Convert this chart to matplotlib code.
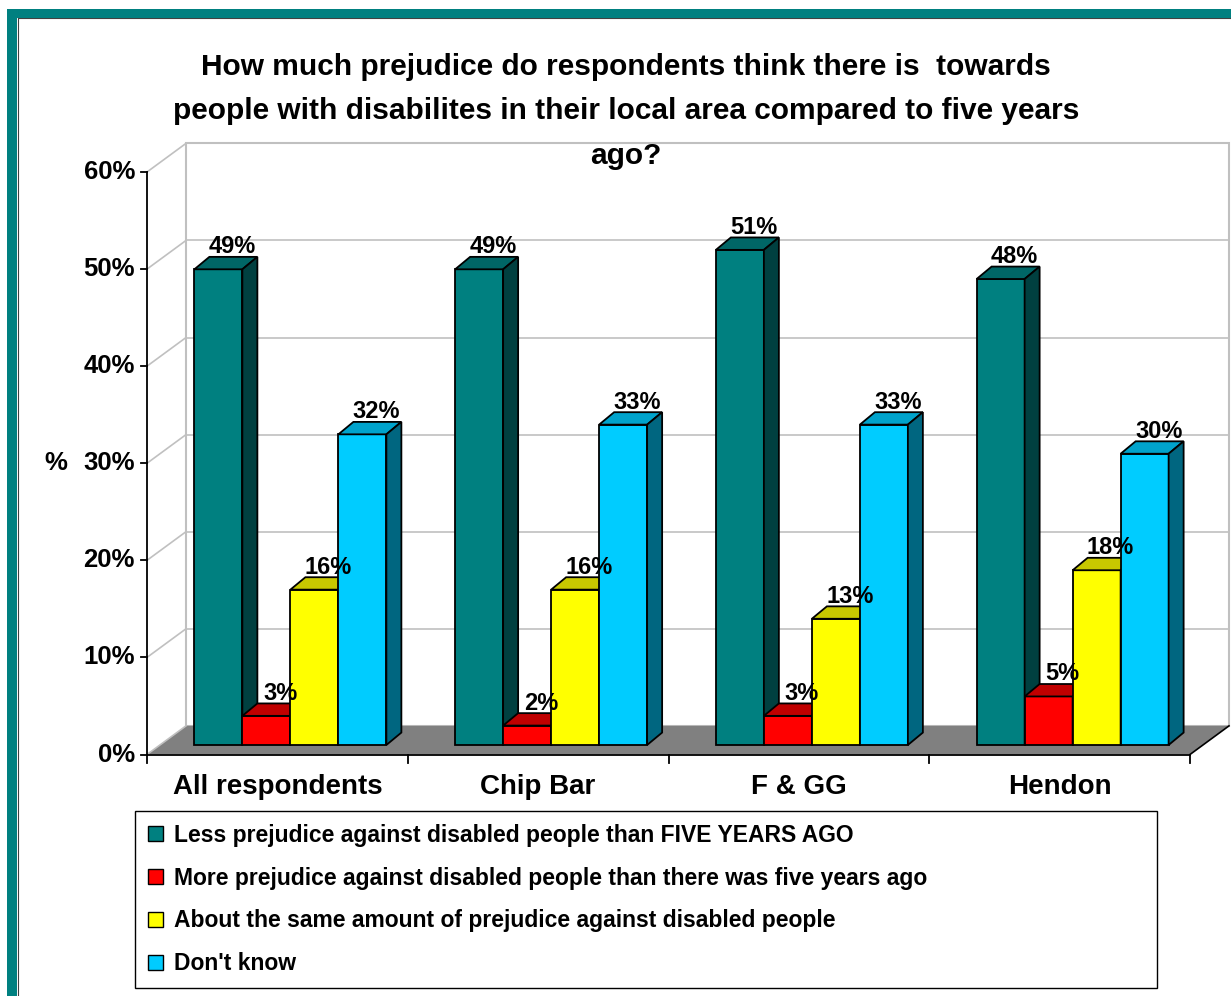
import matplotlib
matplotlib.use("Agg")
import matplotlib.pyplot as plt
from matplotlib.patches import Rectangle, Polygon, Patch
from matplotlib.lines import Line2D

plt.rcParams["font.family"] = ["Liberation Sans", "DejaVu Sans"]
plt.rcParams["font.weight"] = "bold"

categories = ["All respondents", "Chip Bar", "F & GG", "Hendon"]
less_prejudice = [49, 49, 51, 48]
more_prejudice = [3, 2, 3, 5]
same_prejudice = [16, 16, 13, 18]
dont_know = [32, 33, 33, 30]
series_names = [
    "Less prejudice against disabled people than FIVE YEARS AGO",
    "More prejudice against disabled people than there was five years ago",
    "About the same amount of prejudice against disabled people",
    "Don't know",
]
y_ticks = [0, 10, 20, 30, 40, 50, 60]
title = ("How much prejudice do respondents think there is  towards\n"
         "people with disabilites in their local area compared to five years\n"
         "ago?")

series = [less_prejudice, more_prejudice, same_prejudice, dont_know]
front_colors = ["#008080", "#ff0000", "#ffff00", "#00ccff"]
top_colors = ["#006666", "#c00000", "#c8c800", "#00a3cc"]
side_colors = ["#004040", "#800000", "#808000", "#006680"]

W, H = 1231, 996
fig = plt.figure(figsize=(W / 100, H / 100), dpi=100)
fig.patch.set_facecolor("white")

# one axes over the whole figure; data units: 1 per category, 1 per percent
ax = fig.add_axes([0, 0, 1, 1])
px_x = 260.75          # pixels per category
px_y = 9.708           # pixels per percent
x0_px, y0_px = 147, 754.5
ax.set_xlim(-0.5 - x0_px / px_x, -0.5 + (W - x0_px) / px_x)
ax.set_ylim(-(H - y0_px) / px_y, y0_px / px_y)
ax.axis("off")

# 3D depth of the plot box and of the bars
depth_x, depth_y = 39 / px_x, 2.95
bar_shift_x, bar_shift_y = 13 / px_x, 0.98
bar_dx, bar_dy = 15 / px_x, 1.28
bar_w = 48 / px_x
n = len(categories)
left, right = -0.5, n - 0.5
ymax = y_ticks[-1]
grid_c = "#c0c0c0"

# back wall
ax.add_patch(Polygon([(left + depth_x, depth_y), (right + depth_x, depth_y),
                      (right + depth_x, ymax + depth_y), (left + depth_x, ymax + depth_y)],
                     closed=True, facecolor="white", edgecolor=grid_c, lw=1.5, zorder=1))
for t in y_ticks[1:]:
    ax.plot([left + depth_x, right + depth_x], [t + depth_y, t + depth_y], color=grid_c, lw=1.2, zorder=1.1)
    ax.plot([left, left + depth_x], [t, t + depth_y], color=grid_c, lw=1.2, zorder=1.1)

# floor
ax.add_patch(Polygon([(left, 0), (right, 0), (right + depth_x, depth_y), (left + depth_x, depth_y)],
                     closed=True, facecolor="#808080", edgecolor="none", zorder=1.5))
ax.plot([left, left + depth_x], [0, depth_y], color=grid_c, lw=1.2, zorder=1.6)
ax.plot([right, right + depth_x], [0, depth_y], color="black", lw=1.2, zorder=1.6)

# axes lines and ticks
ax.plot([left, left], [0, ymax], color="black", lw=1.3, zorder=2)
ax.plot([left, right], [0, 0], color="black", lw=1.3, zorder=2)
for t in y_ticks:
    ax.plot([left - 6 / px_x, left], [t, t], color="black", lw=1.3, zorder=2)
    ax.text(left - 12 / px_x, t, f"{t}%", ha="right", va="center", fontsize=18.5)
for k in range(n + 1):
    ax.plot([left + k, left + k], [0, -8 / px_y], color="black", lw=1.3, zorder=2)
for i, name in enumerate(categories):
    ax.text(i, -3.3, name, ha="center", va="center", fontsize=20)
ax.text(left - 91 / px_x, 30, "%", ha="center", va="center", fontsize=18.5)

# bars, drawn left to right so each front face hides the previous side face
for i in range(n):
    for j, vals in enumerate(series):
        v = vals[i]
        bx = i - 2 * bar_w + j * bar_w + bar_shift_x
        by = bar_shift_y
        ax.add_patch(Rectangle((bx, by), bar_w, v, facecolor=front_colors[j],
                               edgecolor="black", lw=1.3, zorder=3))
        ax.add_patch(Polygon([(bx, by + v), (bx + bar_w, by + v),
                              (bx + bar_w + bar_dx, by + v + bar_dy), (bx + bar_dx, by + v + bar_dy)],
                             closed=True, facecolor=top_colors[j], edgecolor="black", lw=1.3, zorder=3))
        ax.add_patch(Polygon([(bx + bar_w, by), (bx + bar_w + bar_dx, by + bar_dy),
                              (bx + bar_w + bar_dx, by + v + bar_dy), (bx + bar_w, by + v)],
                             closed=True, facecolor=side_colors[j], edgecolor="black", lw=1.3, zorder=3))
        ax.text(bx + bar_w / 2 + 14 / px_x, v + 3.3, f"{v}%", ha="center", va="center",
                fontsize=17, zorder=5)

fig.text(626 / W, 1 - 111 / H, title, ha="center", va="center", fontsize=21.5,
         linespacing=1.75)

handles = [Patch(facecolor=c, edgecolor="black", linewidth=1) for c in front_colors]
leg = fig.legend(handles, series_names, loc="upper left",
                 bbox_to_anchor=(135 / W, 11 / H, 1022 / W, 174 / H), mode="expand",
                 borderaxespad=0, fancybox=False, edgecolor="black", framealpha=1,
                 fontsize=16.5, handlelength=0.68, handleheight=0.68, handletextpad=0.45,
                 labelspacing=0.87, borderpad=0.55)
leg.get_frame().set_linewidth(1.0)

# teal frame along the top and left edge
fig.patches.append(Rectangle((7 / W, 1 - 18 / H), 1 - 7 / W, 9 / H, transform=fig.transFigure,
                             facecolor="#008080", edgecolor="none", zorder=10))
fig.patches.append(Rectangle((7 / W, 0), 10 / W, 1 - 9 / H, transform=fig.transFigure,
                             facecolor="#008080", edgecolor="none", zorder=10))
fig.lines.append(Line2D([17.5 / W, 1], [1 - 18.5 / H, 1 - 18.5 / H], transform=fig.transFigure,
                        color="#404040", lw=0.8))
fig.lines.append(Line2D([17.5 / W, 17.5 / W], [0, 1 - 18.5 / H], transform=fig.transFigure,
                        color="#404040", lw=0.8))

fig.savefig("out.png", dpi=100)
